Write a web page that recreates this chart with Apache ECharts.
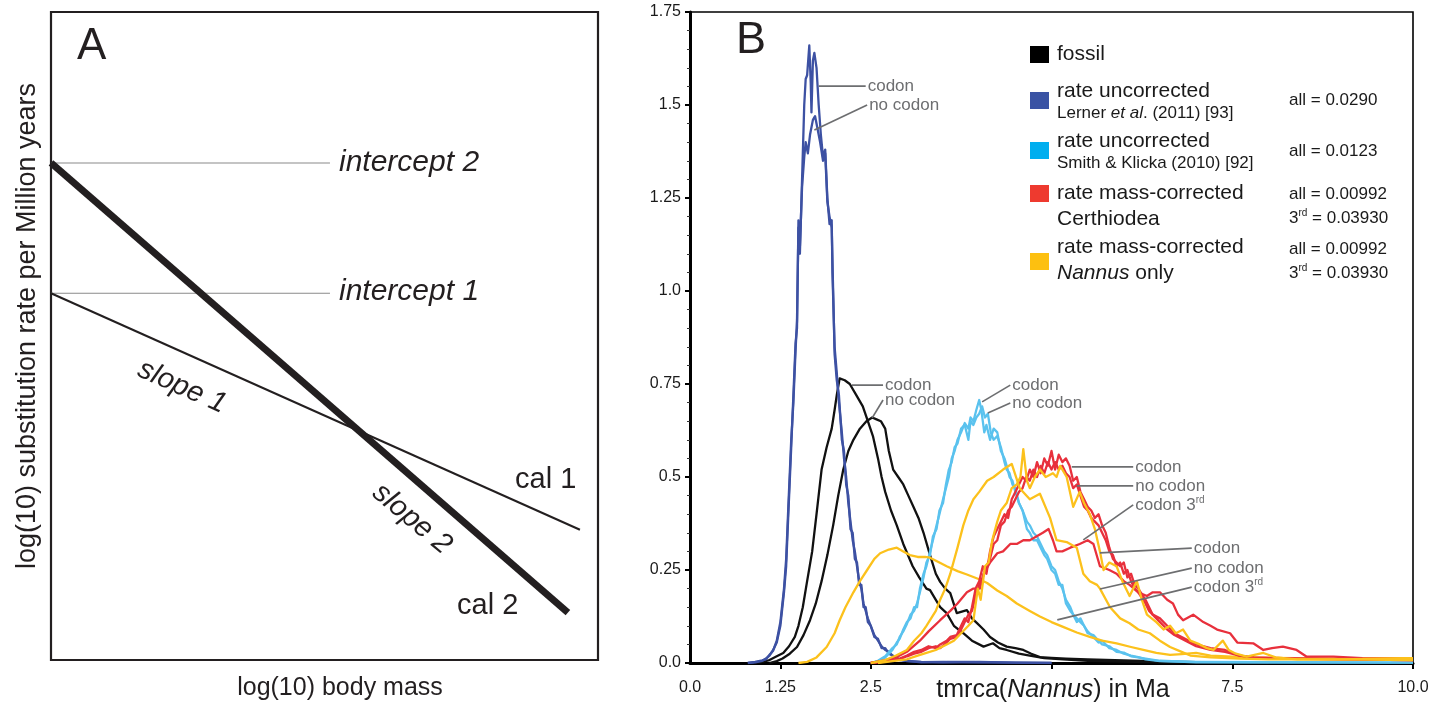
<!DOCTYPE html>
<html><head><meta charset="utf-8">
<script src="https://cdn.jsdelivr.net/npm/echarts@6/dist/echarts.min.js"></script>
<style>html,body{margin:0;padding:0;background:#fff}#c{width:1447px;height:704px}</style>
</head><body><div id="c"></div>
<script>
// ---------- Panel B data: density of tmrca(Nannus) in Ma ----------
const fossilCodon = [[0.9,0],[1.0,0.003],[1.1,0.008],[1.2,0.018],[1.29,0.027],[1.37,0.045],[1.45,0.07],[1.5,0.1],[1.56,0.15],[1.62,0.22],[1.69,0.3],[1.75,0.4],[1.82,0.52],[1.89,0.58],[1.96,0.63],[2.0,0.68],[2.03,0.72],[2.07,0.765],[2.14,0.76],[2.21,0.75],[2.3,0.72],[2.39,0.69],[2.46,0.65],[2.53,0.61],[2.6,0.55],[2.65,0.5],[2.7,0.46],[2.78,0.41],[2.86,0.37],[2.95,0.32],[3.08,0.26],[3.17,0.23],[3.27,0.2],[3.32,0.196],[3.46,0.15],[3.55,0.134],[3.65,0.1],[3.78,0.08],[3.9,0.06],[4.06,0.044],[4.19,0.053],[4.28,0.04],[4.38,0.035],[4.55,0.025],[4.7,0.02],[4.9,0.013],[5.16,0.01],[5.5,0.006],[6,0.004],[6.5,0.002],[7,0.001],[8,0]];
const fossilNoCodon = [[1.1,0],[1.2,0.005],[1.28,0.012],[1.38,0.025],[1.48,0.043],[1.57,0.075],[1.66,0.115],[1.74,0.16],[1.82,0.22],[1.9,0.29],[1.98,0.37],[2.05,0.45],[2.12,0.52],[2.19,0.57],[2.26,0.6],[2.35,0.63],[2.44,0.65],[2.52,0.66],[2.58,0.655],[2.64,0.65],[2.7,0.63],[2.75,0.57],[2.81,0.52],[2.88,0.5],[2.95,0.48],[3.02,0.45],[3.09,0.42],[3.16,0.39],[3.23,0.35],[3.32,0.29],[3.4,0.24],[3.46,0.218],[3.53,0.2],[3.6,0.188],[3.69,0.134],[3.76,0.138],[3.83,0.142],[3.9,0.12],[3.97,0.107],[4.06,0.09],[4.15,0.07],[4.26,0.055],[4.38,0.044],[4.5,0.04],[4.61,0.035],[4.72,0.025],[4.84,0.016],[5.0,0.014],[5.2,0.012],[5.5,0.01],[6.0,0.007],[6.5,0.004],[7,0.002],[8,0]];
const lernerCodon = [[0.8,0],[0.9,0.002],[1.0,0.006],[1.05,0.012],[1.1,0.02],[1.15,0.035],[1.2,0.055],[1.25,0.1],[1.3,0.19],[1.33,0.26],[1.36,0.4],[1.4,0.58],[1.43,0.72],[1.46,0.86],[1.48,0.9],[1.5,1.19],[1.52,1.1],[1.55,1.3],[1.58,1.5],[1.6,1.57],[1.62,1.58],[1.65,1.66],[1.67,1.56],[1.68,1.48],[1.7,1.62],[1.72,1.64],[1.75,1.6],[1.78,1.5],[1.81,1.42],[1.84,1.36],[1.87,1.38],[1.9,1.25],[1.93,1.18],[1.96,1.19],[1.97,1.05],[2.0,0.85],[2.03,0.78],[2.06,0.7],[2.1,0.62],[2.13,0.55],[2.16,0.5],[2.19,0.43],[2.22,0.38],[2.25,0.33],[2.28,0.3],[2.31,0.26],[2.34,0.22],[2.37,0.2],[2.4,0.16],[2.43,0.14],[2.46,0.12],[2.5,0.1],[2.55,0.075],[2.6,0.06],[2.65,0.045],[2.7,0.035],[2.75,0.03],[2.8,0.02],[2.9,0.01],[3.0,0.005],[3.2,0.003],[3.5,0.002],[4,0.003],[4.5,0.001],[5,0]];
const lernerNoCodon = [[0.8,0],[0.9,0.003],[1.0,0.007],[1.05,0.01],[1.1,0.022],[1.15,0.033],[1.2,0.06],[1.25,0.11],[1.3,0.2],[1.33,0.28],[1.36,0.42],[1.4,0.6],[1.43,0.7],[1.46,0.84],[1.48,0.92],[1.5,1.17],[1.52,1.12],[1.55,1.28],[1.58,1.36],[1.6,1.4],[1.63,1.37],[1.66,1.42],[1.7,1.46],[1.73,1.47],[1.76,1.44],[1.8,1.4],[1.84,1.35],[1.87,1.37],[1.9,1.24],[1.93,1.2],[1.96,1.17],[1.98,1.0],[2.0,0.83],[2.03,0.76],[2.06,0.72],[2.1,0.6],[2.13,0.57],[2.16,0.48],[2.19,0.45],[2.22,0.36],[2.25,0.35],[2.28,0.28],[2.31,0.27],[2.34,0.21],[2.37,0.21],[2.4,0.15],[2.43,0.15],[2.46,0.11],[2.5,0.1],[2.55,0.07],[2.6,0.065],[2.65,0.04],[2.7,0.04],[2.75,0.025],[2.8,0.02],[2.9,0.008],[3.0,0.006],[3.2,0.002],[3.5,0.003],[4,0.002],[4.5,0.001],[5,0]];
const smithCodon = [[2.5,0],[2.6,0.005],[2.7,0.015],[2.8,0.035],[2.86,0.055],[2.9,0.065],[2.95,0.09],[3.0,0.11],[3.05,0.12],[3.1,0.15],[3.14,0.15],[3.18,0.2],[3.23,0.24],[3.27,0.26],[3.32,0.3],[3.36,0.33],[3.41,0.37],[3.45,0.4],[3.5,0.44],[3.54,0.47],[3.58,0.5],[3.62,0.55],[3.66,0.57],[3.7,0.6],[3.75,0.62],[3.8,0.645],[3.85,0.63],[3.88,0.66],[3.92,0.65],[3.96,0.68],[4.0,0.707],[4.03,0.68],[4.07,0.62],[4.1,0.64],[4.15,0.6],[4.2,0.63],[4.25,0.62],[4.3,0.57],[4.35,0.55],[4.38,0.53],[4.42,0.5],[4.46,0.49],[4.5,0.46],[4.55,0.43],[4.6,0.41],[4.66,0.38],[4.7,0.37],[4.75,0.35],[4.8,0.34],[4.85,0.32],[4.9,0.3],[4.94,0.29],[5.0,0.26],[5.05,0.25],[5.1,0.22],[5.15,0.2],[5.2,0.17],[5.26,0.15],[5.3,0.13],[5.35,0.12],[5.4,0.11],[5.45,0.1],[5.5,0.085],[5.58,0.07],[5.65,0.055],[5.7,0.06],[5.8,0.04],[5.9,0.035],[6.0,0.025],[6.1,0.02],[6.2,0.016],[6.3,0.01],[6.5,0.005],[7,0.003],[8,0.002],[10,0.001]];
const smithNoCodon = [[2.5,0],[2.6,0.006],[2.7,0.018],[2.8,0.04],[2.86,0.05],[2.9,0.07],[2.95,0.085],[3.0,0.105],[3.05,0.13],[3.1,0.14],[3.14,0.16],[3.18,0.19],[3.23,0.23],[3.27,0.27],[3.32,0.29],[3.36,0.34],[3.41,0.36],[3.45,0.41],[3.5,0.43],[3.54,0.48],[3.58,0.52],[3.62,0.54],[3.66,0.58],[3.7,0.59],[3.75,0.63],[3.8,0.64],[3.85,0.6],[3.88,0.65],[3.92,0.64],[3.96,0.66],[4.0,0.67],[4.04,0.69],[4.08,0.66],[4.12,0.67],[4.16,0.62],[4.2,0.6],[4.25,0.61],[4.3,0.58],[4.35,0.54],[4.38,0.52],[4.42,0.51],[4.46,0.48],[4.5,0.47],[4.55,0.43],[4.6,0.41],[4.66,0.36],[4.7,0.35],[4.75,0.33],[4.8,0.33],[4.85,0.31],[4.9,0.29],[4.94,0.28],[5.0,0.25],[5.05,0.24],[5.1,0.21],[5.15,0.21],[5.2,0.16],[5.26,0.14],[5.3,0.13],[5.35,0.11],[5.4,0.12],[5.45,0.1],[5.5,0.08],[5.58,0.075],[5.65,0.06],[5.7,0.05],[5.8,0.045],[5.9,0.03],[6.0,0.028],[6.1,0.018],[6.2,0.015],[6.3,0.012],[6.5,0.006],[7,0.002],[8,0.002],[10,0.001]];
const certCodon = [[2.5,0],[2.7,0.005],[2.9,0.012],[3.0,0.02],[3.1,0.03],[3.2,0.035],[3.3,0.045],[3.4,0.04],[3.46,0.05],[3.55,0.06],[3.6,0.07],[3.69,0.075],[3.75,0.1],[3.8,0.12],[3.85,0.11],[3.9,0.15],[3.95,0.2],[4.0,0.22],[4.05,0.26],[4.1,0.24],[4.15,0.3],[4.2,0.34],[4.25,0.36],[4.3,0.38],[4.35,0.4],[4.4,0.39],[4.45,0.44],[4.5,0.46],[4.55,0.48],[4.6,0.5],[4.65,0.49],[4.7,0.52],[4.75,0.5],[4.8,0.54],[4.85,0.51],[4.9,0.55],[4.95,0.53],[5.0,0.57],[5.05,0.52],[5.1,0.56],[5.15,0.54],[5.2,0.55],[5.25,0.53],[5.3,0.49],[5.35,0.5],[5.4,0.46],[5.45,0.44],[5.5,0.42],[5.55,0.41],[5.6,0.39],[5.65,0.4],[5.7,0.37],[5.75,0.35],[5.8,0.31],[5.85,0.28],[5.9,0.27],[5.95,0.26],[6.0,0.27],[6.05,0.23],[6.1,0.24],[6.15,0.21],[6.2,0.2],[6.3,0.17],[6.35,0.15],[6.4,0.13],[6.5,0.12],[6.55,0.11],[6.6,0.1],[6.7,0.08],[6.8,0.07],[6.9,0.06],[7.0,0.05],[7.2,0.04],[7.4,0.035],[7.6,0.02],[7.8,0.015],[8.2,0.013],[9,0.01],[10,0.008]];
const certNoCodon = [[2.5,0],[2.7,0.004],[2.9,0.01],[3.0,0.018],[3.1,0.025],[3.2,0.03],[3.3,0.04],[3.4,0.045],[3.46,0.04],[3.55,0.055],[3.6,0.065],[3.69,0.07],[3.75,0.09],[3.8,0.11],[3.85,0.13],[3.9,0.14],[3.95,0.18],[4.0,0.21],[4.05,0.23],[4.1,0.26],[4.15,0.28],[4.2,0.32],[4.25,0.33],[4.3,0.37],[4.35,0.38],[4.4,0.41],[4.45,0.42],[4.5,0.44],[4.55,0.46],[4.6,0.47],[4.65,0.5],[4.7,0.49],[4.75,0.52],[4.8,0.5],[4.85,0.53],[4.9,0.51],[4.95,0.54],[5.0,0.52],[5.05,0.54],[5.1,0.52],[5.15,0.53],[5.2,0.51],[5.25,0.5],[5.3,0.47],[5.35,0.48],[5.4,0.45],[5.45,0.42],[5.5,0.41],[5.55,0.39],[5.6,0.38],[5.65,0.37],[5.7,0.35],[5.75,0.33],[5.8,0.3],[5.85,0.29],[5.9,0.26],[5.95,0.27],[6.0,0.24],[6.05,0.25],[6.1,0.22],[6.15,0.2],[6.2,0.19],[6.3,0.16],[6.35,0.14],[6.4,0.13],[6.5,0.11],[6.55,0.1],[6.6,0.09],[6.7,0.075],[6.8,0.065],[6.9,0.055],[7.0,0.045],[7.2,0.035],[7.4,0.03],[7.6,0.02],[7.8,0.014],[8.2,0.012],[9,0.01],[10,0.008]];
const cert3rd = [[2.5,0],[2.7,0.008],[2.86,0.016],[3.0,0.03],[3.18,0.06],[3.3,0.085],[3.46,0.115],[3.6,0.14],[3.7,0.16],[3.83,0.19],[3.92,0.2],[4.01,0.2],[4.06,0.24],[4.15,0.27],[4.25,0.295],[4.33,0.3],[4.43,0.32],[4.52,0.32],[4.61,0.33],[4.7,0.33],[4.79,0.34],[4.88,0.35],[4.96,0.36],[5.02,0.33],[5.07,0.3],[5.15,0.3],[5.26,0.31],[5.39,0.32],[5.5,0.33],[5.58,0.32],[5.67,0.26],[5.8,0.25],[5.9,0.24],[6.0,0.22],[6.08,0.21],[6.2,0.19],[6.32,0.18],[6.4,0.19],[6.5,0.19],[6.6,0.17],[6.68,0.16],[6.75,0.13],[6.82,0.115],[6.96,0.13],[7.1,0.11],[7.2,0.1],[7.29,0.09],[7.47,0.08],[7.57,0.055],[7.79,0.053],[7.93,0.035],[8.05,0.04],[8.2,0.044],[8.39,0.035],[8.53,0.017],[8.9,0.017],[9.3,0.013],[9.7,0.012],[10,0.01]];
const nannusCodon = [[2.6,0],[2.8,0.005],[3.0,0.01],[3.15,0.02],[3.27,0.027],[3.4,0.035],[3.55,0.05],[3.65,0.06],[3.75,0.08],[3.85,0.1],[3.92,0.115],[3.98,0.2],[4.02,0.17],[4.08,0.26],[4.13,0.27],[4.18,0.33],[4.25,0.38],[4.3,0.41],[4.38,0.43],[4.45,0.47],[4.52,0.48],[4.57,0.5],[4.61,0.575],[4.66,0.49],[4.7,0.47],[4.77,0.5],[4.84,0.52],[4.92,0.5],[5.02,0.51],[5.07,0.5],[5.12,0.53],[5.21,0.5],[5.3,0.42],[5.39,0.46],[5.45,0.43],[5.53,0.4],[5.6,0.36],[5.67,0.3],[5.72,0.25],[5.8,0.27],[5.9,0.26],[5.98,0.22],[6.08,0.18],[6.18,0.22],[6.25,0.17],[6.32,0.13],[6.45,0.11],[6.55,0.09],[6.64,0.1],[6.72,0.08],[6.82,0.09],[6.92,0.06],[7.05,0.05],[7.15,0.04],[7.24,0.035],[7.37,0.06],[7.45,0.035],[7.55,0.025],[7.7,0.017],[7.93,0.027],[8.1,0.015],[8.4,0.01],[9,0.01],[9.5,0.012],[10,0.013]];
const nannusNoCodon = [[2.5,0],[2.7,0.008],[2.85,0.02],[3.0,0.035],[3.1,0.06],[3.2,0.08],[3.27,0.1],[3.4,0.14],[3.46,0.17],[3.53,0.2],[3.6,0.24],[3.7,0.31],[3.78,0.37],[3.85,0.41],[3.92,0.44],[4.0,0.46],[4.11,0.49],[4.2,0.5],[4.33,0.52],[4.45,0.535],[4.56,0.47],[4.7,0.44],[4.84,0.455],[4.98,0.39],[5.07,0.33],[5.21,0.325],[5.35,0.31],[5.44,0.24],[5.53,0.22],[5.63,0.21],[5.67,0.2],[5.81,0.15],[5.95,0.12],[6.08,0.107],[6.2,0.09],[6.36,0.08],[6.5,0.06],[6.64,0.043],[6.8,0.03],[6.92,0.02],[7.2,0.015],[7.6,0.012],[8,0.01],[9,0.01],[10,0.008]];
const nannus3rd = [[1.5,0],[1.62,0.003],[1.75,0.015],[1.89,0.043],[2.0,0.08],[2.07,0.115],[2.15,0.15],[2.26,0.19],[2.35,0.22],[2.45,0.25],[2.55,0.28],[2.63,0.295],[2.75,0.305],[2.86,0.31],[2.95,0.3],[3.04,0.29],[3.15,0.285],[3.25,0.285],[3.32,0.283],[3.45,0.27],[3.55,0.26],[3.7,0.247],[3.83,0.238],[4.0,0.225],[4.11,0.215],[4.25,0.195],[4.38,0.18],[4.52,0.16],[4.7,0.14],[4.84,0.125],[5.0,0.11],[5.16,0.097],[5.35,0.082],[5.53,0.07],[5.7,0.06],[5.9,0.053],[6.1,0.043],[6.27,0.035],[6.45,0.027],[6.64,0.022],[6.8,0.024],[7.0,0.027],[7.2,0.02],[7.5,0.017],[8,0.014],[8.4,0.013],[9,0.012],[9.5,0.013],[10,0.013]];

const yTicks = [0, 0.25, 0.5, 0.75, 1.0, 1.25, 1.5, 1.75];
const xTickValues = [1.25, 2.5, 5, 7.5, 10];
const xLabelValues = [0, 1.25, 2.5, 7.5, 10];

// leader annotations (data coords: from curve point to label start)
const annotations = [
  {text:'codon', from:[1.78,1.551], to:[2.43,1.551]},
  {text:'no codon', from:[1.72,1.433], to:[2.45,1.5]},
  {text:'codon', from:[2.24,0.747], to:[2.67,0.747]},
  {text:'no codon', from:[2.52,0.659], to:[2.67,0.707]},
  {text:'codon', from:[4.04,0.702], to:[4.43,0.747]},
  {text:'no codon', from:[4.12,0.672], to:[4.43,0.699]},
  {text:'codon', from:[5.28,0.527], to:[6.13,0.527]},
  {text:'no codon', from:[5.35,0.476], to:[6.13,0.476]},
  {text:'codon 3rd', from:[5.44,0.331], to:[6.13,0.425]},
  {text:'codon', from:[5.67,0.296], to:[6.94,0.309]},
  {text:'no codon', from:[5.67,0.199], to:[6.94,0.255]},
  {text:'codon 3rd', from:[5.08,0.116], to:[6.94,0.204]}
];

// ---------- Panel A schematic (arbitrary units 0-100) ----------
const cal2Line = [[0,76.7],[94.5,7.3]];
const cal1Line = [[0,56.6],[96.7,20.1]];
const intercept2Line = [[0,76.7],[51,76.7]];
const intercept1Line = [[0,56.6],[51,56.6]];

const SANS = '"Liberation Sans", Arial, Helvetica, sans-serif';
const NARROW = '"Liberation Sans Narrow", "Arial Narrow", "Liberation Sans", sans-serif';
const GRAY = '#6d6e70';
const INK = '#231f20';
const C = {black:'#111111', blue:'#3d51a3', sky:'#5ac2ee', red:'#e8303c', yellow:'#fcc11c'};

function curve(name, data, color){
  return {name, type:'line', xAxisIndex:0, yAxisIndex:0, data, symbol:'none', showSymbol:false,
    lineStyle:{color, width:2.3, join:'round'}, itemStyle:{color}, z:3, silent:true, clip:true};
}
function leader(a){
  const rich = {a:{fontSize:17, fontFamily:SANS, color:GRAY}, s:{fontSize:10, fontFamily:SANS, color:GRAY, padding:[0,0,10,0]}};
  const label = a.text.endsWith('3rd') ? '{a|' + a.text.slice(0,-2) + '}{s|rd}' : '{a|' + a.text + '}';
  return {type:'line', xAxisIndex:0, yAxisIndex:0, data:[a.from, a.to], symbol:'none', silent:true, z:6,
    lineStyle:{color:GRAY, width:1.7},
    endLabel:{show:true, formatter:label, distance:2, rich}};
}
function schem(data, color, width){
  return {type:'line', xAxisIndex:1, yAxisIndex:1, data, symbol:'none', silent:true, z:4,
    lineStyle:{color, width, cap:'butt'}};
}

const chart = echarts.init(document.getElementById('c'));
const fmtY = v => v===0 ? '0.0' : (v===1 ? '1.0' : String(v));
const fmtX = v => v===0 ? '0.0' : (v===10 ? '10.0' : String(v));

const richLegend = {
  i:{fontStyle:'italic', fontSize:17, fontFamily:SANS, fill:'#1a1a1a'},
  n:{fontSize:17, fontFamily:SANS, fill:'#1a1a1a'},
  I:{fontStyle:'italic', fontSize:21, fontFamily:SANS, fill:'#1a1a1a'},
  N:{fontSize:21, fontFamily:SANS, fill:'#1a1a1a'},
  s:{fontSize:10, fontFamily:SANS, fill:'#1a1a1a', padding:[0,0,9,0]}
};
function txt(x, y, text, size, extra){
  return {type:'text', x, y, silent:true, z:10,
    style:Object.assign({text, fontSize:size, fontFamily:SANS, fill:'#1a1a1a', verticalAlign:'middle', align:'left', rich:richLegend}, extra||{})};
}
function box(x, y, color){
  return {type:'rect', shape:{x, y, width:19, height:17}, style:{fill:color}, silent:true, z:10};
}
function rot(x, y, text, size, deg, extra){
  return {type:'text', x, y, rotation:deg*Math.PI/180, silent:true, z:10,
    style:Object.assign({text, fontSize:size, fontFamily:SANS, fill:INK, align:'center', verticalAlign:'middle'}, extra||{})};
}

const option = {
  animation:false,
  backgroundColor:'#fff',
  grid:[
    {left:690, top:12, width:723, height:651, show:true, borderColor:'#000', borderWidth:1.6, backgroundColor:'transparent'},
    {left:51, top:12, width:547, height:648, show:true, borderColor:INK, borderWidth:2.2, backgroundColor:'transparent'}
  ],
  xAxis:[
    {type:'value', gridIndex:0, min:0, max:10, interval:1.25,
      axisLine:{show:true, onZero:false, lineStyle:{color:'#000', width:3}},
      axisTick:{show:true, customValues:xTickValues, length:6, lineStyle:{color:'#000', width:2}},
      axisLabel:{customValues:xLabelValues, formatter:fmtX, color:'#1a1a1a', fontSize:16, fontFamily:NARROW, margin:17},
      splitLine:{show:false}},
    {type:'value', gridIndex:1, min:0, max:100, show:false}
  ],
  yAxis:[
    {type:'value', gridIndex:0, min:0, max:1.75, interval:0.25,
      axisLine:{show:true, onZero:false, lineStyle:{color:'#000', width:3}},
      axisTick:{show:true, length:5, lineStyle:{color:'#000', width:2}},
      minorTick:{show:true, splitNumber:5, length:3, lineStyle:{color:'#333', width:1}},
      axisLabel:{formatter:fmtY, color:'#1a1a1a', fontSize:16, fontFamily:NARROW, margin:9},
      splitLine:{show:false}},
    {type:'value', gridIndex:1, min:0, max:100, show:false}
  ],
  series:[
    curve('fossil codon', fossilCodon, C.black),
    curve('fossil no codon', fossilNoCodon, C.black),
    curve('Lerner codon', lernerCodon, C.blue),
    curve('Lerner no codon', lernerNoCodon, C.blue),
    curve('Smith codon', smithCodon, C.sky),
    curve('Smith no codon', smithNoCodon, C.sky),
    curve('Nannus 3rd', nannus3rd, C.yellow),
    curve('Certhiodea 3rd', cert3rd, C.red),
    curve('Certhiodea no codon', certNoCodon, C.red),
    curve('Certhiodea codon', certCodon, C.red),
    curve('Nannus no codon', nannusNoCodon, C.yellow),
    curve('Nannus codon', nannusCodon, C.yellow),
    ...annotations.map(leader),
    schem(intercept2Line, '#8a8a8a', 1.2),
    schem(intercept1Line, '#8a8a8a', 1.2),
    schem(cal1Line, INK, 2),
    schem(cal2Line, INK, 7)
  ],
  graphic:[
    // Panel B labels
    txt(736, 41, 'B', 45, {fill:INK}),
    {type:'text', x:1053, y:690, silent:true, z:10, style:{text:'{N|tmrca(}{I|Nannus}{N|) in Ma}', align:'center', verticalAlign:'middle',
      rich:{N:{fontSize:25, fontFamily:SANS, fill:'#1a1a1a'}, I:{fontSize:25, fontStyle:'italic', fontFamily:SANS, fill:'#1a1a1a'}}}},
    // legend
    box(1030, 46, '#000000'),
    txt(1057, 54, '{N|fossil}', 21),
    box(1030, 92, '#3a53a4'),
    txt(1057, 91, '{N|rate uncorrected}', 21),
    txt(1057, 113, '{n|Lerner }{i|et al}{n|. (2011) [93]}', 17),
    txt(1289, 100, '{n|all = 0.0290}', 17),
    box(1030, 142, '#00aeef'),
    txt(1057, 141, '{N|rate uncorrected}', 21),
    txt(1057, 163, '{n|Smith & Klicka (2010) [92]}', 17),
    txt(1289, 151, '{n|all = 0.0123}', 17),
    box(1030, 185, '#ee3a2f'),
    txt(1057, 193, '{N|rate mass-corrected}', 21),
    txt(1057, 219, '{N|Certhiodea}', 21),
    txt(1289, 194, '{n|all = 0.00992}', 17),
    txt(1289, 218, '{n|3}{s|rd}{n| = 0.03930}', 17),
    box(1030, 253, '#fdc010'),
    txt(1057, 247, '{N|rate mass-corrected}', 21),
    txt(1057, 273, '{I|Nannus}{N| only}', 21),
    txt(1289, 249, '{n|all = 0.00992}', 17),
    txt(1289, 273, '{n|3}{s|rd}{n| = 0.03930}', 17),
    // Panel A labels
    txt(77, 47, 'A', 44, {fill:INK}),
    txt(339, 163, 'intercept 2', 30, {fontStyle:'italic', fill:INK}),
    txt(339, 292, 'intercept 1', 30, {fontStyle:'italic', fill:INK}),
    rot(182, 387, 'slope 1', 29, -24, {fontStyle:'italic'}),
    rot(412, 519, 'slope 2', 29, -40, {fontStyle:'italic'}),
    txt(515, 480, 'cal 1', 29, {fill:INK}),
    txt(457, 606, 'cal 2', 29, {fill:INK}),
    rot(28, 326, 'log(10) substitution rate per Million years', 27, 90),
    rot(340, 688, 'log(10) body mass', 25, 0)
  ]
};
chart.setOption(option);
</script>
</body></html>
